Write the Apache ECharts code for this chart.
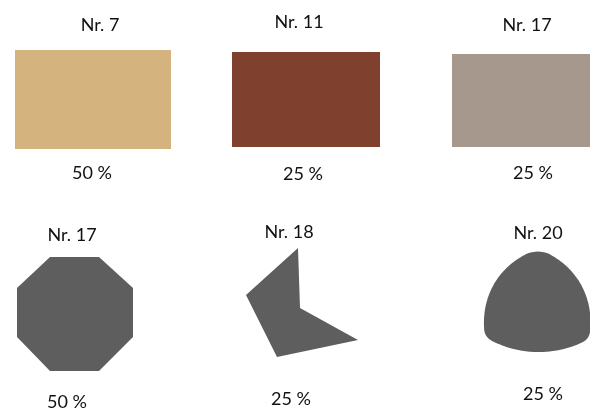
<!DOCTYPE html>
<html><head><meta charset="utf-8">
<script src="https://cdn.jsdelivr.net/npm/echarts@6/dist/echarts.min.js"></script>
<style>html,body{margin:0;padding:0;background:#fff}#c{width:590px;height:409px}</style>
</head><body><div id="c"></div>
<script>
// ---- data ----
const names = ['Nr. 7', 'Nr. 11', 'Nr. 17', 'Nr. 17', 'Nr. 18', 'Nr. 20'];
const shares = [50, 25, 25, 50, 25, 25];
const kinds = ['polygon', 'polygon', 'polygon', 'polygon', 'polygon', 'reuleaux'];

// ---- layout (data units on a 590 x 409 value grid) ----
const outlines = [
  [[15, 50], [171, 50], [171, 149], [15, 149]],
  [[232, 52], [380, 52], [380, 147], [232, 147]],
  [[452, 54], [590, 54], [590, 147], [452, 147]],
  [[50, 257], [99, 257], [133, 288], [133, 337], [99, 371], [50, 371], [17, 337], [17, 288]],
  [[298, 248], [300, 308], [358, 340], [277, 357], [246, 295]],
  [[538, 249], [589, 339], [485, 337]]
];
const titlePos = [[100, 25], [299, 22], [527, 25], [72, 235], [289, 232], [538, 233]];
const sharePos = [[92, 173], [303, 174], [533, 173], [67, 402], [291, 399], [543, 394]];

// ---- styles ----
const fills = ['#D5B37F', '#7F412E', '#A6988D', '#5E5E5E', '#5E5E5E', '#5E5E5E'];
const arcBulge = [6, 0, 6];      // extra outward bulge per curved side (px)
const cornerRound = [12, 7, 7];  // corner rounding per vertex (px)
const FONT = 'Lato';

function arcPts(P, Q, C, n, bulge) {
  const aP = Math.atan2(P[1] - C[1], P[0] - C[0]);
  let aQ = Math.atan2(Q[1] - C[1], Q[0] - C[0]);
  let d = aQ - aP;
  while (d > Math.PI) d -= 2 * Math.PI;
  while (d < -Math.PI) d += 2 * Math.PI;
  const rP = Math.hypot(P[0] - C[0], P[1] - C[1]);
  const rQ = Math.hypot(Q[0] - C[0], Q[1] - C[1]);
  const out = [];
  for (let k = 0; k <= n; k++) {
    const t = k / n, a = aP + d * t;
    const r = rP + (rQ - rP) * t + bulge * Math.sin(Math.PI * t);
    out.push([C[0] + r * Math.cos(a), C[1] + r * Math.sin(a)]);
  }
  return out;
}

function quad(A, K, B, n) {
  const out = [];
  for (let k = 0; k <= n; k++) {
    const t = k / n, u = 1 - t;
    out.push([u * u * A[0] + 2 * u * t * K[0] + t * t * B[0], u * u * A[1] + 2 * u * t * K[1] + t * t * B[1]]);
  }
  return out;
}

function reuleaux(T, R, L) {
  const V = [T, R, L];
  const sides = [arcPts(T, R, L, 60, arcBulge[0]), arcPts(R, L, T, 60, arcBulge[1]), arcPts(L, T, R, 60, arcBulge[2])];
  // trim each side near its end vertices
  const trimmed = sides.map((s, i) => {
    const a = V[i], b = V[(i + 1) % 3];
    const ra = cornerRound[i], rb = cornerRound[(i + 1) % 3];
    return s.filter(p => Math.hypot(p[0] - a[0], p[1] - a[1]) > ra && Math.hypot(p[0] - b[0], p[1] - b[1]) > rb);
  });
  let pts = [];
  for (let i = 0; i < 3; i++) {
    const cur = trimmed[i], next = trimmed[(i + 1) % 3];
    pts = pts.concat(cur);
    pts = pts.concat(quad(cur[cur.length - 1], V[(i + 1) % 3], next[0], 10));
  }
  return pts;
}

const chart = echarts.init(document.getElementById('c'), null, {renderer: 'canvas'});
chart.setOption({
  animation: false,
  backgroundColor: '#fff',
  grid: {left: 0, right: 0, top: 0, bottom: 0, containLabel: false},
  xAxis: {type: 'value', min: 0, max: 590, show: false},
  yAxis: {type: 'value', min: 0, max: 409, inverse: true, show: false},
  series: [
    {
      type: 'custom',
      data: names.map((n, i) => [i]),
      encode: {x: 0},
      renderItem: function (params, api) {
        const i = params.dataIndex;
        const px = outlines[i].map(p => api.coord(p));
        const pts = kinds[i] === 'reuleaux' ? reuleaux(px[0], px[1], px[2]) : px;
        return {
          type: 'polygon',
          shape: {points: pts},
          style: {fill: fills[i], stroke: null}
        };
      }
    },
    {
      type: 'custom',
      data: names.map((n, i) => [i]),
      encode: {x: 0},
      renderItem: function (params, api) {
        const i = params.dataIndex;
        const a = api.coord(titlePos[i]);
        const b = api.coord(sharePos[i]);
        const st = {fill: '#111', font: '18px ' + FONT, align: 'center', verticalAlign: 'middle'};
        return {
          type: 'group',
          children: [
            {type: 'text', x: a[0], y: a[1], style: Object.assign({text: names[i]}, st)},
            {type: 'text', x: b[0], y: b[1], style: Object.assign({text: shares[i] + ' %'}, st)}
          ]
        };
      }
    }
  ]
});
</script></body></html>
